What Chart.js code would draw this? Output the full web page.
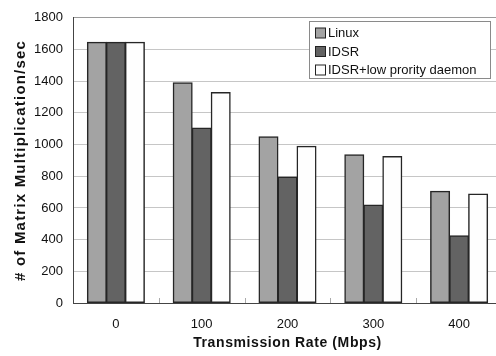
<!DOCTYPE html>
<html>
<head>
<meta charset="utf-8">
<script src="https://cdn.jsdelivr.net/npm/chart.js@4.4.1/dist/chart.umd.min.js"></script>
<style>
  html, body { margin: 0; padding: 0; background: #fff; overflow: hidden; }
  #wrap { width: 502px; height: 356px; }
</style>
</head>
<body>
<div id="wrap"><canvas id="myChart"></canvas></div>
<script>
// data
const rates = ['0', '100', '200', '300', '400'];
const linux = [1645, 1390, 1050, 935, 705];
const idsr = [1645, 1105, 795, 618, 425];
const idsrLow = [1645, 1328, 990, 925, 688];
const yTicks = [0, 200, 400, 600, 800, 1000, 1200, 1400, 1600, 1800];

const FONT = 'Liberation Sans, Arial, sans-serif';

// boxed legend inside the plot, top right
const boxLegend = {
  id: 'boxLegend',
  afterDraw(chart) {
    const ctx = chart.ctx;
    const x = 309.5, y = 21.5, w = 181, h = 57;
    ctx.save();
    ctx.fillStyle = '#fff';
    ctx.fillRect(x, y, w, h);
    ctx.strokeStyle = '#8a8a8a';
    ctx.lineWidth = 1;
    ctx.strokeRect(x, y, w, h);
    ctx.font = '13px ' + FONT;
    ctx.textBaseline = 'middle';
    chart.data.datasets.forEach(function(ds, i) {
      const cy = 33 + i * 18.5;
      ctx.fillStyle = ds.backgroundColor;
      ctx.fillRect(315.5, cy - 5, 10, 10);
      ctx.strokeStyle = '#222';
      ctx.strokeRect(315.5, cy - 5, 10, 10);
      ctx.fillStyle = '#111';
      ctx.fillText(ds.label, 328, cy + 0.5);
    });
    ctx.restore();
  }
};

// little tick marks between the categories, on the bottom axis, pointing up
const boundaryTicks = {
  id: 'boundaryTicks',
  afterDatasetsDraw(chart) {
    const ctx = chart.ctx;
    const xs = chart.scales.x;
    const bottom = chart.chartArea.bottom;
    const half = (xs.getPixelForValue(1) - xs.getPixelForValue(0)) / 2;
    ctx.save();
    ctx.strokeStyle = '#aaa';
    ctx.lineWidth = 1;
    for (let i = 0; i < rates.length - 1; i++) {
      const px = Math.round(xs.getPixelForValue(i) + half) + 0.5;
      ctx.beginPath();
      ctx.moveTo(px, bottom);
      ctx.lineTo(px, bottom - 5);
      ctx.stroke();
    }
    ctx.restore();
  }
};

// axis titles are letter-spaced in the original
const titleSpacing = { x: '0.6px', y: '1.2px' };
const spacedTitles = {
  id: 'spacedTitles',
  beforeDraw(chart) {
    ['x', 'y'].forEach(function(id) {
      const sc = chart.scales[id];
      if (sc._spaced) return;
      const orig = sc.drawTitle;
      sc.drawTitle = function() {
        chart.ctx.save();
        chart.ctx.letterSpacing = titleSpacing[id];
        orig.apply(this, arguments);
        chart.ctx.restore();
      };
      sc._spaced = true;
    });
  }
};

const barStyle = { borderColor: '#262626', borderWidth: 1.5, borderSkipped: false, inflateAmount: 0.5 };

const config = {
  type: 'bar',
  data: {
    labels: rates,
    datasets: [
      Object.assign({ label: 'Linux', data: linux, backgroundColor: '#a3a3a3' }, barStyle),
      Object.assign({ label: 'IDSR', data: idsr, backgroundColor: '#636363' }, barStyle),
      Object.assign({ label: 'IDSR+low prority daemon', data: idsrLow, backgroundColor: '#fefefe' }, barStyle)
    ]
  },
  options: {
    responsive: true,
    maintainAspectRatio: false,
    animation: false,
    layout: { padding: { top: 12, right: 0, left: 0, bottom: 0 } },
    categoryPercentage: 0.665,
    barPercentage: 1.0,
    plugins: {
      legend: { display: false },
      tooltip: { enabled: false }
    },
    scales: {
      x: {
        grid: { display: false },
        border: { color: '#444', width: 1 },
        ticks: { color: '#111', font: { family: FONT, size: 13 }, padding: 6 },
        title: {
          display: true,
          text: 'Transmission Rate (Mbps)',
          color: '#111',
          font: { family: FONT, size: 14, weight: 'bold' },
          padding: { top: 4 }
        },
        afterFit(scale) { scale.height = 53; }
      },
      y: {
        min: 0,
        max: 1800,
        afterBuildTicks(scale) { scale.ticks = yTicks.map(v => ({ value: v })); },
        grid: {
          color: ctx => ctx.tick && ctx.tick.value === 1800 ? '#9a9a9a' : '#c6c6c6',
          drawTicks: false
        },
        border: { color: '#444', width: 1 },
        ticks: {
          color: '#111',
          font: { family: FONT, size: 13 },
          padding: 10,
          callback: v => String(v)
        },
        title: {
          display: true,
          text: '# of Matrix Multiplication/sec',
          color: '#111',
          font: { family: FONT, size: 15, weight: 'bold' },
          padding: { top: 12 }
        },
        afterFit(scale) { scale.width = 73; }
      }
    }
  },
  plugins: [spacedTitles, boundaryTicks, boxLegend]
};

const myChart = new Chart(document.getElementById('myChart'), config);
</script>
</body>
</html>
